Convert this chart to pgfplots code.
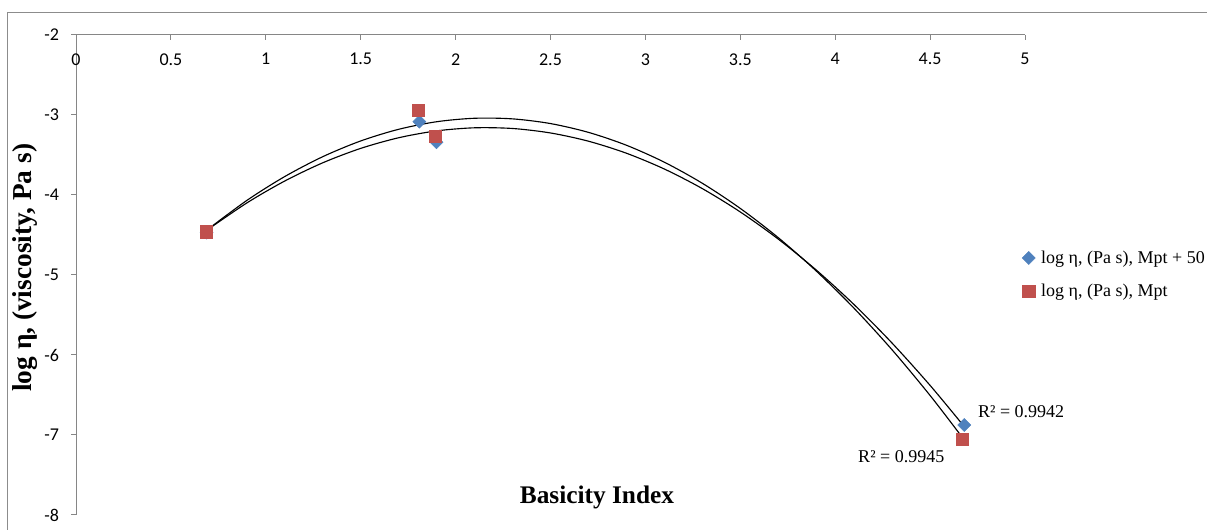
\documentclass[border=0pt]{standalone}
\usepackage{pgfplots}
\pgfplotsset{compat=1.18}
\usepackage{fontspec}
\setmainfont{Liberation Serif}
\newfontfamily\calibri{Carlito}
\definecolor{axgray}{HTML}{868686}
\definecolor{framegray}{HTML}{8C8C8C}
\definecolor{sblue}{HTML}{4F81BD}
\definecolor{sred}{HTML}{C0504D}
\begin{document}
\begin{tikzpicture}
\useasboundingbox (0pt,0pt) rectangle (905.25pt,397.5pt);
\draw[framegray, line width=0.75pt] (5.25pt,-2pt) -- (5.25pt,387.75pt) -- (907pt,387.75pt);
\begin{axis}[
  at={(57pt,11.25pt)}, anchor=south west,
  scale only axis, width=711.75pt, height=360pt,
  xmin=0, xmax=5, ymin=-8, ymax=-2,
  clip=false,
  axis x line*=top, axis y line*=left,
  axis line style={axgray, line width=0.75pt},
  xtick={0,0.5,...,5}, ytick={-8,-7,...,-2},
  tick align=outside, major tick length=3.75pt,
  tick style={axgray, line width=0.75pt},
  major x tick style={yshift=-3.75pt},
  /pgf/number format/assume math mode=true,
  ticklabel style={font=\calibri\fontsize{13.5}{15}\selectfont, text=black},
  xticklabel style={anchor=north, yshift=-14pt},
  yticklabel style={xshift=-5.5pt},
  xlabel={Basicity Index},
  xlabel style={at={(axis description cs:0.549,0.0375)}, anchor=center, font=\bfseries\fontsize{19}{22}\selectfont},
  ylabel={log η, (viscosity, Pa s)},
  ylabel style={at={(axis description cs:-0.0537,0.515)}, anchor=center, font=\bfseries\fontsize{20.5}{24}\selectfont},
  legend style={at={(axis description cs:0.9968,0.501)}, anchor=west, draw=none, fill=none,
    font=\fontsize{13.5}{16}\selectfont, row sep=10pt, column sep=2.5pt, legend cell align=left, inner sep=0pt},
  legend image code/.code={\draw[#1] plot coordinates {(0pt,0pt)};},
]
\addplot[only marks, mark=square*, mark size=3.45pt, mark options={rotate=45, draw=sblue, fill=sblue}, color=sblue]
  coordinates {(0.688,-4.47) (1.809,-3.084) (1.899,-3.34) (4.68,-6.875)};
\addlegendentry{log η, (Pa s), Mpt + 50}
\addplot[only marks, mark=square*, mark size=4.6pt, color=sred, mark options={draw=sred, fill=sred}]
  coordinates {(0.688,-4.46) (1.805,-2.944) (1.892,-3.264) (4.67,-7.05)};
\addlegendentry{log η, (Pa s), Mpt}
% polynomial trendline, Mpt + 50
\addplot[black, line width=0.85pt, smooth, forget plot] coordinates {
(0.685,-4.4475) (0.9,-4.0996) (1.1,-3.8250) (1.3,-3.5976) (1.5,-3.4174) (1.7,-3.2844)
(1.9,-3.1986) (2.1,-3.1600) (2.3,-3.1687) (2.5,-3.2246) (2.7,-3.3276) (2.9,-3.4779)
(3.1,-3.6755) (3.3,-3.9202) (3.5,-4.2122) (3.7,-4.5513) (3.9,-4.9377) (4.1,-5.3713)
(4.3,-5.8521) (4.5,-6.3802) (4.673,-6.8749)};
% polynomial trendline, Mpt
\addplot[black, line width=0.85pt, smooth, forget plot] coordinates {
(0.685,-4.4465) (0.9,-4.0681) (1.1,-3.7691) (1.3,-3.5212) (1.5,-3.3244) (1.7,-3.1788)
(1.9,-3.0842) (2.1,-3.0408) (2.3,-3.0484) (2.5,-3.1072) (2.7,-3.2171) (2.9,-3.3781)
(3.1,-3.5903) (3.3,-3.8535) (3.5,-4.1679) (3.7,-4.5333) (3.9,-4.9498) (4.1,-5.4175)
(4.3,-5.9364) (4.5,-6.5062) (4.673,-7.0404)};
\node[anchor=west, inner sep=0pt, font=\fontsize{13.5}{16}\selectfont] at (axis cs:4.752,-6.71) {R² = 0.9942};
\node[anchor=west, inner sep=0pt, font=\fontsize{13.5}{16}\selectfont] at (axis cs:4.12,-7.275) {R² = 0.9945};
\end{axis}
\end{tikzpicture}
\end{document}
